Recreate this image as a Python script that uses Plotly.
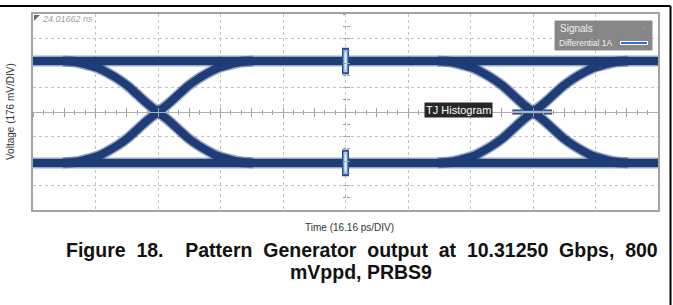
import plotly.graph_objects as go
import numpy as np

# ---- data ----
DIV_T = 16.16          # ps per division
DIV_V = 176.0          # mV per division
n_div_t = 10
n_div_v = 8

rail_high = 366.0      # mV
rail_low = -366.0      # mV
crossings = [32.3, 129.3]   # ps, eye crossing times
# rising-edge profile (offset from crossing, ps / mV)
edge_t = [0.0, 2.6, 5.2, 7.8, 10.3, 12.9, 15.5, 18.1, 20.7, 24.6]
edge_v = [0.0, 57, 122, 187, 237, 280, 316, 337, 355, 366]

hist_markers_t = [80.8, 80.8]          # ps, histogram boxes on the rails
hist_markers_v = [366.0, -366.0]
tj_hist_t = [123.9, 134.2]            # ps, TJ histogram at 2nd crossing
tj_hist_v = [0.0, 0.0]
trigger_t = [162.6]
trigger_v = [0.0]

t_max = DIV_T * n_div_t
v_max = DIV_V * n_div_v / 2

NAVY = "#1d3c78"
HALO = "rgba(29,60,120,0.45)"

fig = go.Figure()

def band(t, v, spline=False):
    shape = "spline" if spline else "linear"
    fig.add_trace(go.Scatter(x=t, y=v, mode="lines", hoverinfo="skip",
                             line=dict(color=HALO, width=11, shape=shape),
                             showlegend=False))
    fig.add_trace(go.Scatter(x=t, y=v, mode="lines", hoverinfo="skip",
                             line=dict(color=NAVY, width=8, shape=shape),
                             showlegend=False))

# rails
band([0, t_max], [rail_high, rail_high])
band([0, t_max], [rail_low, rail_low])

# edges
et = np.array(edge_t)
ev = np.array(edge_v)
full_t = np.concatenate([-et[::-1], et[1:]])
full_v = np.concatenate([-ev[::-1], ev[1:]])
for tc in crossings:
    band(tc + full_t, full_v, spline=True)
    band(tc + full_t, -full_v, spline=True)

# histogram boxes on rails
fig.add_trace(go.Scatter(x=hist_markers_t, y=hist_markers_v, mode="markers",
                         marker=dict(symbol="line-ns", size=19,
                                     line=dict(color="#27508f", width=7)),
                         hoverinfo="skip", showlegend=False))
fig.add_trace(go.Scatter(x=hist_markers_t, y=hist_markers_v, mode="markers",
                         marker=dict(symbol="line-ns", size=16,
                                     line=dict(color="#a9c8f0", width=4)),
                         hoverinfo="skip", showlegend=False))
fig.add_trace(go.Scatter(x=hist_markers_t, y=hist_markers_v, mode="markers",
                         marker=dict(symbol="line-ns", size=12,
                                     line=dict(color="#e4eefa", width=1.5)),
                         hoverinfo="skip", showlegend=False))

# TJ histogram bar
fig.add_trace(go.Scatter(x=tj_hist_t, y=tj_hist_v, mode="lines",
                         line=dict(color="#1b3566", width=5),
                         hoverinfo="skip", showlegend=False))
fig.add_trace(go.Scatter(x=tj_hist_t, y=tj_hist_v, mode="lines",
                         line=dict(color="#93b9ec", width=2.5),
                         hoverinfo="skip", showlegend=False))

# trigger dot
fig.add_trace(go.Scatter(x=trigger_t, y=trigger_v, mode="markers",
                         marker=dict(color="#3a7bd5", size=3), cliponaxis=False,
                         hoverinfo="skip", showlegend=False))

# dummy traces so overlay axes render
for xa, ya in [("x2", "y"), ("x3", "y"), ("x", "y2"), ("x", "y3")]:
    fig.add_trace(go.Scatter(x=[None], y=[None], xaxis=xa, yaxis=ya,
                             showlegend=False, hoverinfo="skip"))

FONT = "Liberation Sans, Arial, sans-serif"

axis_common = dict(showticklabels=False, zeroline=False)
fig.update_layout(
    width=673, height=305,
    margin=dict(l=33, r=15, t=14, b=95),
    paper_bgcolor="white", plot_bgcolor="white",
    showlegend=False,
    font=dict(family=FONT, color="#222"),
    xaxis=dict(range=[0, t_max], dtick=DIV_T, tick0=0, showgrid=True,
               gridcolor="#c4c4c4", griddash="dot", gridwidth=1,
               showline=True, mirror=True, linecolor="#a3a3a3", linewidth=2,
               ticks="", **axis_common),
    yaxis=dict(range=[-v_max, v_max], dtick=DIV_V, tick0=0, showgrid=True,
               gridcolor="#c4c4c4", griddash="dot", gridwidth=1,
               showline=True, mirror=True, linecolor="#a3a3a3", linewidth=2,
               ticks="", **axis_common),
    xaxis2=dict(overlaying="x", anchor="free", position=0.5, range=[0, t_max],
                showgrid=False, showline=True, linecolor="#b0b0b0", linewidth=1,
                ticks="outside", ticklen=4, tickcolor="#a0a0a0", dtick=DIV_T / 2, tick0=0,
                minor=dict(ticks="outside", ticklen=2, dtick=DIV_T / 6, tickcolor="#a0a0a0"),
                **axis_common),
    xaxis3=dict(overlaying="x", anchor="free", position=0.5, range=[0, t_max],
                showgrid=False, showline=False,
                ticks="inside", ticklen=4, tickcolor="#a0a0a0", dtick=DIV_T / 2, tick0=0,
                minor=dict(ticks="inside", ticklen=2, dtick=DIV_T / 6, tickcolor="#a0a0a0"),
                **axis_common),
    yaxis2=dict(overlaying="y", anchor="free", position=0.5, range=[-v_max, v_max],
                showgrid=False, showline=False,
                ticks="outside", ticklen=3, tickcolor="#a0a0a0", dtick=DIV_V / 2, tick0=0,
                **axis_common),
    yaxis3=dict(overlaying="y", anchor="free", position=0.5, range=[-v_max, v_max],
                showgrid=False, showline=False,
                ticks="inside", ticklen=3, tickcolor="#a0a0a0", dtick=DIV_V / 2, tick0=0,
                **axis_common),
)

def px_x(p):
    return (p - 33) / 625.0

def px_y(p):
    return (210 - p) / 196.0

shapes = []
# outer page border (top and right)
shapes.append(dict(type="line", xref="paper", yref="paper",
                   x0=px_x(0), x1=px_x(670.5), y0=px_y(6), y1=px_y(6),
                   line=dict(color="black", width=2)))
shapes.append(dict(type="line", xref="paper", yref="paper",
                   x0=px_x(670.5), x1=px_x(670.5), y0=px_y(6), y1=px_y(306),
                   line=dict(color="black", width=2)))
# corner triangle
shapes.append(dict(type="path", xref="paper", yref="paper",
                   path=f"M {px_x(34)} {px_y(15)} L {px_x(40)} {px_y(15)} L {px_x(34)} {px_y(21)} Z",
                   fillcolor="#6a6a6a", line=dict(width=0)))
# signals legend box
shapes.append(dict(type="rect", xref="paper", yref="paper",
                   x0=px_x(555), x1=px_x(652), y0=px_y(21), y1=px_y(50),
                   fillcolor="rgba(118,118,118,0.88)", line=dict(color="#8a8a8a", width=1)))
shapes.append(dict(type="line", xref="paper", yref="paper",
                   x0=px_x(620), x1=px_x(648), y0=px_y(43), y1=px_y(43),
                   line=dict(color="white", width=4)))
shapes.append(dict(type="line", xref="paper", yref="paper",
                   x0=px_x(621), x1=px_x(647), y0=px_y(43), y1=px_y(43),
                   line=dict(color="#2f6fdc", width=2)))
fig.update_layout(shapes=shapes)

ann = []
ann.append(dict(xref="paper", yref="paper", x=px_x(40), y=px_y(19.5), xanchor="left",
                yanchor="middle", showarrow=False, text="<i>24.01662 ns</i>",
                font=dict(size=9, color="#a0a0a0", family=FONT)))
ann.append(dict(xref="paper", yref="paper", x=px_x(558), y=px_y(28.5), xanchor="left",
                yanchor="middle", showarrow=False, text="Signals",
                font=dict(size=10, color="#f2f2f2", family=FONT)))
ann.append(dict(xref="paper", yref="paper", x=px_x(644), y=px_y(28.5), xanchor="center",
                yanchor="middle", showarrow=False, text="^",
                font=dict(size=9, color="#9a9a9a", family=FONT)))
ann.append(dict(xref="paper", yref="paper", x=px_x(557), y=px_y(43), xanchor="left",
                yanchor="middle", showarrow=False, text="Differential 1A",
                font=dict(size=8.5, color="#f2f2f2", family=FONT)))
ann.append(dict(xref="paper", yref="paper", x=px_x(458), y=px_y(110), xanchor="center",
                yanchor="middle", showarrow=False, text="TJ Histogram",
                bgcolor="#272727", borderpad=1,
                font=dict(size=11, color="white", family=FONT)))
ann.append(dict(xref="paper", yref="paper", x=px_x(10), y=px_y(112), xanchor="center",
                yanchor="middle", showarrow=False, text="Voltage (176 mV/DIV)",
                textangle=-90, font=dict(size=10, color="#333", family=FONT)))
ann.append(dict(xref="paper", yref="paper", x=px_x(349), y=px_y(227), xanchor="center",
                yanchor="middle", showarrow=False, text="Time (16.16 ps/DIV)",
                font=dict(size=10, color="#333", family=FONT)))
sp = "&nbsp;"
line1 = ("Figure" + sp * 2 + "18." + sp * 4 + "Pattern" + sp * 2 + "Generator" + sp * 2 +
         "output" + sp * 2 + "at" + sp * 2 + "10.31250" + sp * 2 + "Gbps," + sp * 2 + "800")
ann.append(dict(xref="paper", yref="paper", x=px_x(361.5), y=px_y(250), xanchor="center",
                yanchor="middle", showarrow=False, text="<b>" + line1 + "</b>",
                font=dict(size=19.5, color="#111", family=FONT)))
ann.append(dict(xref="paper", yref="paper", x=px_x(361), y=px_y(272), xanchor="center",
                yanchor="middle", showarrow=False, text="<b>mVppd, PRBS9</b>",
                font=dict(size=19.5, color="#111", family=FONT)))
fig.update_layout(annotations=ann)

fig.write_html("out.html", post_script="document.body.style.margin='0';",
               config={"displayModeBar": False})
